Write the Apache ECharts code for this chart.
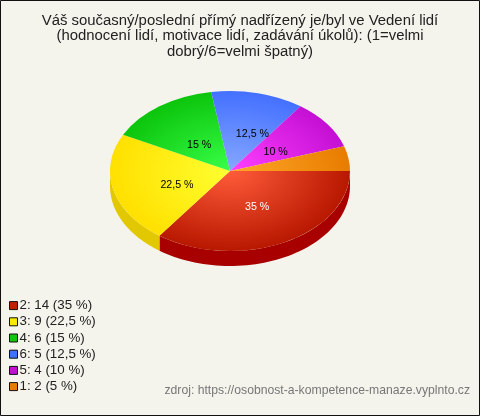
<!DOCTYPE html>
<html><head><meta charset="utf-8">
<style>html,body{margin:0;padding:0;background:#F4F4EC}#c{width:480px;height:416px}</style>
<script src="https://cdn.jsdelivr.net/npm/echarts@6/dist/echarts.min.js"></script>
</head><body><div id="c"></div>
<script>
const titleText = 'Váš současný/poslední přímý nadřízený je/byl ve Vedení lidí\n(hodnocení lidí, motivace lidí, zadávání úkolů): (1=velmi\ndobrý/6=velmi špatný)';
const sourceText = 'zdroj: https://osobnost-a-kompetence-manaze.vyplnto.cz';
const categories = ['2', '3', '4', '6', '5', '1'];
const values = [14, 9, 6, 5, 4, 2];
const percentLabels = ['35 %', '22,5 %', '15 %', '12,5 %', '10 %', ''];
const legendLabels = ['2: 14 (35 %)', '3: 9 (22,5 %)', '4: 6 (15 %)', '6: 5 (12,5 %)', '5: 4 (10 %)', '1: 2 (5 %)'];
const legendColors = ['#C02200', '#FFE800', '#10C410', '#4070FF', '#C010D0', '#E87C00'];
const innerColors = ['#FF5C3A', '#FFFF30', '#38FF48', '#86A8FF', '#FF40FF', '#FFA828'];
const outerColors = ['#B81800', '#FFE000', '#0CC40C', '#4470FF', '#C410D4', '#E87C00'];
const wallColors = ['#A80000', '#E2C800', '#0A9A0A', '#3050C0', '#9010A0', '#B86000'];
const labelColors = ['#FFFFFF', '#000000', '#000000', '#000000', '#000000', '#000000'];
const labelNudgeX = [1, 3, 3, 9, -1, 0];
const labelNudgeY = [2, 5, 5, 0, 4, 0];

const cx = 230, cy = 171, rx = 120, ry = 80, depth = 15, labelR = 0.48;
const total = values.reduce((a, b) => a + b, 0);

function sliceAngles(i) {
  let before = 0;
  for (let k = 0; k < i; k++) before += values[k];
  return [before / total * Math.PI * 2, (before + values[i]) / total * Math.PI * 2];
}

function renderSlice(i, api) {
  const frac = api.value(0) / total;
  const a0 = sliceAngles(i)[0], a1 = a0 + frac * Math.PI * 2;
  const children = [];
  const w0 = Math.max(a0, 0), w1 = Math.min(a1, Math.PI);
  if (w1 > w0) {
    const pts = [];
    const n = 60;
    for (let s = 0; s <= n; s++) {
      const t = w0 + (w1 - w0) * s / n;
      pts.push([cx + rx * Math.cos(t), cy + ry * Math.sin(t)]);
    }
    for (let s = n; s >= 0; s--) {
      const t = w0 + (w1 - w0) * s / n;
      pts.push([cx + rx * Math.cos(t), cy + depth + ry * Math.sin(t)]);
    }
    children.push({type: 'polygon', shape: {points: pts}, style: {fill: wallColors[i]}});
  }
  children.push({
    type: 'sector', x: cx, y: cy, scaleY: ry / rx,
    shape: {cx: 0, cy: 0, r0: 0, r: rx, startAngle: a0, endAngle: a1, clockwise: true},
    style: {fill: {type: 'radial', global: true, x: 0, y: 0, r: rx, colorStops: [
      {offset: 0, color: innerColors[i]}, {offset: 1, color: outerColors[i]}]}}
  });
  if (percentLabels[i]) {
    const m = (a0 + a1) / 2;
    children.push({
      type: 'text', z2: 100,
      x: cx + rx * labelR * Math.cos(m) + labelNudgeX[i],
      y: cy + ry * labelR * Math.sin(m) + labelNudgeY[i],
      style: {text: percentLabels[i], fill: labelColors[i], font: '10.67px "Liberation Sans"', align: 'center', verticalAlign: 'middle'}
    });
  }
  return {type: 'group', children};
}

const chart = echarts.init(document.getElementById('c'), null, {renderer: 'canvas', width: 480, height: 416});
chart.setOption({
  animation: false,
  backgroundColor: '#F4F4EC',
  title: [
    {text: titleText, left: 235, top: 8, textAlign: 'center',
     textStyle: {fontFamily: 'Liberation Sans', fontSize: 14.9, fontWeight: 'normal', color: '#222222', lineHeight: 15.5}},
    {text: sourceText, right: 5, top: 380,
     textStyle: {fontFamily: 'Liberation Sans', fontSize: 12.2, fontWeight: 'normal', color: '#777777'}}
  ],
  legend: {
    left: 9, top: 298, padding: 0, orient: 'vertical', selectedMode: false,
    itemWidth: 8, itemHeight: 8, itemGap: 1, icon: 'rect',
    data: legendLabels,
    textStyle: {fontFamily: 'Liberation Sans', fontSize: 13.33, color: '#222222', lineHeight: 15.2, padding: [0, 0, 0, -3]},
    itemStyle: {borderColor: '#111111', borderWidth: 1}
  },
  graphic: [{type: 'rect', shape: {x: 0.5, y: 0.5, width: 479, height: 415}, style: {fill: 'none', stroke: '#111111', lineWidth: 1}, z: 10}],
  series: categories.map((c, i) => ({
    type: 'custom', name: legendLabels[i], coordinateSystem: 'none', silent: true,
    itemStyle: {color: legendColors[i]},
    data: [[values[i]]],
    renderItem: (params, api) => renderSlice(i, api)
  }))
});
</script></body></html>
